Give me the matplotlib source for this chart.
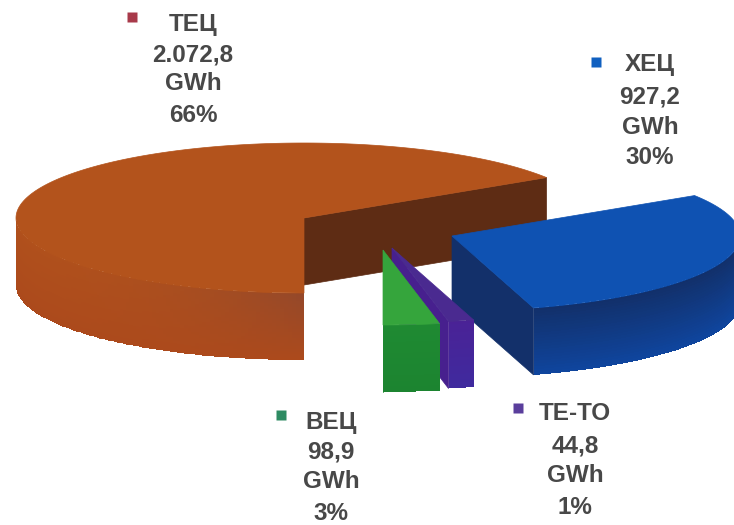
import numpy as np
import matplotlib
matplotlib.use('Agg')
import matplotlib.pyplot as plt
from matplotlib.patches import Polygon

names = ['ВЕЦ', 'ТЕ-ТО', 'ХЕЦ', 'ТЕЦ']
values = [98.9, 44.8, 927.2, 2072.8]
value_labels = ['98,9', '44,8', '927,2', '2.072,8']
percents = [3, 1, 30, 66]

# slice styles: top colour, radial face colour, wall colours
top_colors = ['#35A53C', '#4A2A90', '#0F52B2', '#B3531C']
face_colors = ['#1E8A30', '#47208E', '#13306A', '#5E2C14']
wall_start = ['#1F8A32', '#4A2296', '#12306A', '#B0501C']
wall_upper = ['#1F8A32', '#4A2296', '#12306A', '#94482A']
wall_lower = ['#1C8430', '#3F2A9E', '#0F459E', '#AC4A1C']
legend_colors = ['#2E8B62', '#5A3E9C', '#1060C0', '#A83A4A']

# where each exploded slice has its apex
apex = {'ВЕЦ': (383, 250), 'ТЕ-ТО': (392, 248), 'ХЕЦ': (452, 236), 'ТЕЦ': (304, 218)}
label_x = {'ВЕЦ': 331, 'ТЕ-ТО': 575, 'ХЕЦ': 650, 'ТЕЦ': 193}
label_y = {'ВЕЦ': [423, 452, 482, 513], 'ТЕ-ТО': [413, 446, 476, 507],
           'ХЕЦ': [65, 97, 127, 158], 'ТЕЦ': [25, 55, 84, 115]}
marker_xy = {'ВЕЦ': (281, 415), 'ТЕ-ТО': (518, 408), 'ХЕЦ': (596, 62), 'ТЕЦ': (132, 17)}

rx, ry, depth = 288, 75, 67
start_angle = 270


def rim(center, t):
    t = np.radians(t)
    return center[0] + rx * np.cos(t), center[1] - ry * np.sin(t)


def rgb(c):
    return np.array(matplotlib.colors.to_rgb(c))


def draw_slice(ax, i, t0, t1, z):
    c = apex[names[i]]
    ts = np.linspace(t0, t1, 300)
    xs, ys = rim(c, ts)

    # radial face on the start edge
    ex, ey = rim(c, t0)
    ax.add_patch(Polygon([c, (ex, ey), (ex, ey + depth), (c[0], c[1] + depth)],
                         facecolor=face_colors[i], edgecolor=face_colors[i], lw=0.5, zorder=z))

    # outer wall, only the part facing the viewer
    front = np.sin(np.radians(ts)) <= 0
    if front.any():
        fx, fy = xs[front], ys[front]
        bands = 24
        g = np.linspace(0, 1, bands + 1)
        X = np.tile(fx, (bands + 1, 1))
        Y = fy + depth * g[:, None]
        f = (np.linspace(0, 1, len(fx) - 1) ** 4)[None, :, None]
        g_mid = ((g[:-1] + g[1:]) / 2)[:, None, None]
        upper = rgb(wall_start[i]) + (rgb(wall_upper[i]) - rgb(wall_start[i])) * f
        C = upper + (rgb(wall_lower[i]) - upper) * g_mid
        ax.pcolormesh(X, Y, C, shading='flat', antialiased=False, linewidth=0, zorder=z + 1)
        ax.set_xlim(0, 734)
        ax.set_ylim(525, 0)

    # top
    pts = np.r_[[c], np.c_[xs, ys]]
    ax.add_patch(Polygon(pts, facecolor=top_colors[i], edgecolor=top_colors[i], lw=0.5, zorder=z + 2))


fig = plt.figure(figsize=(7.34, 5.25), dpi=100)
ax = fig.add_axes([0, 0, 1, 1])
ax.set_xlim(0, 734)
ax.set_ylim(525, 0)
ax.axis('off')

sweeps = np.array(values) / sum(values) * 360
edges = start_angle + np.r_[0, np.cumsum(sweeps)]

# back slice first
for z, i in enumerate([3, 2, 1, 0]):
    draw_slice(ax, i, edges[i], edges[i + 1], 2 + z * 3)

for i, name in enumerate(names):
    mx, my = marker_xy[name]
    ax.plot(mx, my, 's', ms=7, color=legend_colors[i], mec='none', zorder=30)
    lines = [name, value_labels[i], 'GWh', f'{percents[i]}%']
    for line, y in zip(lines, label_y[name]):
        ax.text(label_x[name], y, line, ha='center', va='center', fontsize=17.5,
                fontweight='bold', family='Liberation Sans', color='#484848', zorder=30)

fig.savefig('out.png', dpi=100)
